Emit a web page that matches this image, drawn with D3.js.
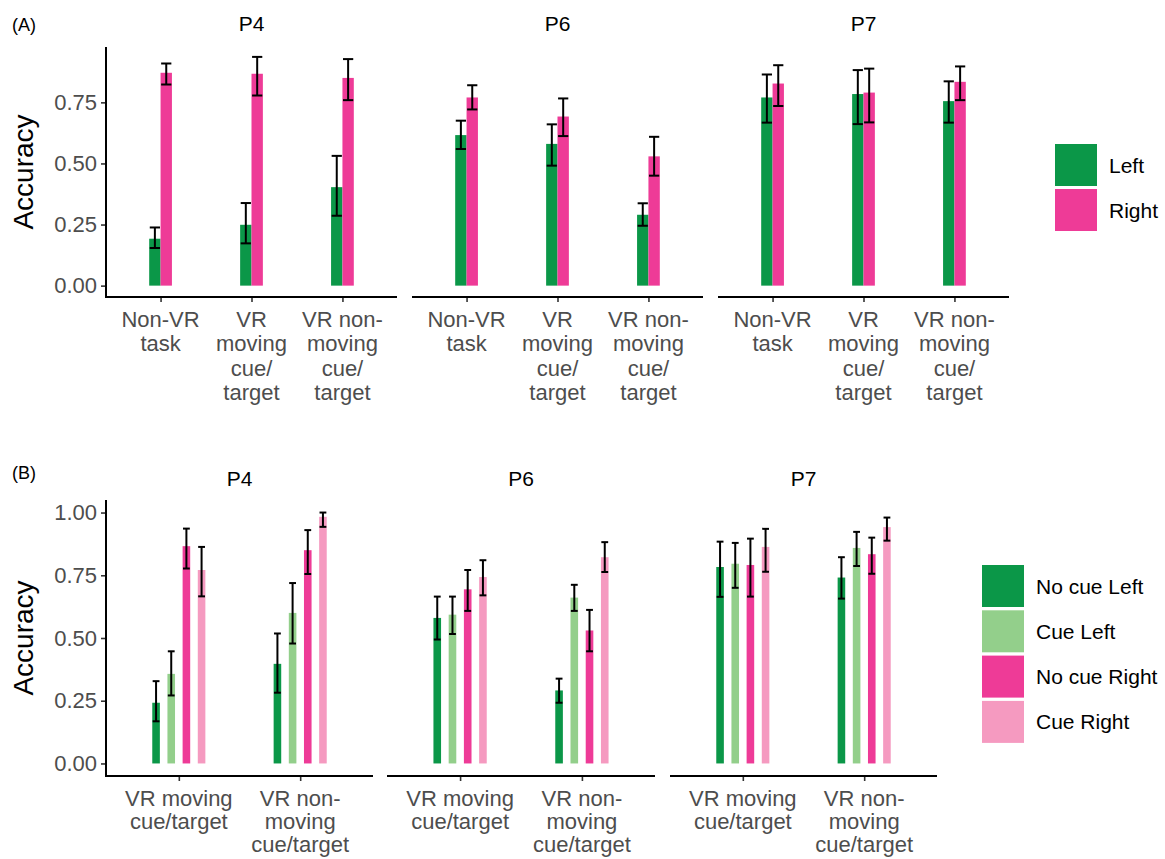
<!DOCTYPE html>
<html>
<head>
<meta charset="utf-8">
<script src="https://cdn.jsdelivr.net/npm/d3@7"></script>
<style>
  html, body { margin: 0; padding: 0; background: #fff; }
  svg { display: block; font-family: "Liberation Sans", Arial, sans-serif; }
</style>
</head>
<body>
<svg id="chart" width="1165" height="859"></svg>
<script>
// ---------------- DATA ----------------
const participants = ["P4", "P6", "P7"];

// Panel A
const categoriesA = ["Non-VR\ntask", "VR\nmoving\ncue/\ntarget", "VR non-\nmoving\ncue/\ntarget"];
const seriesA = ["Left", "Right"];
// values per participant (rows) x category (cols)
const leftA    = [[0.192, 0.249, 0.403], [0.616, 0.580, 0.290], [0.770, 0.784, 0.755]];
const leftA_lo = [[0.154, 0.173, 0.286], [0.559, 0.491, 0.245], [0.667, 0.661, 0.667]];
const leftA_hi = [[0.238, 0.338, 0.531], [0.675, 0.660, 0.337], [0.864, 0.882, 0.836]];
const rightA    = [[0.871, 0.867, 0.850], [0.770, 0.692, 0.529], [0.827, 0.790, 0.834]];
const rightA_lo = [[0.823, 0.778, 0.759], [0.721, 0.612, 0.450], [0.735, 0.668, 0.759]];
const rightA_hi = [[0.909, 0.936, 0.927], [0.820, 0.766, 0.609], [0.902, 0.888, 0.897]];
const ticksA = [0, 0.25, 0.5, 0.75];
const tickLabelsA = ["0.00", "0.25", "0.50", "0.75"];

// Panel B
const categoriesB = ["VR moving\ncue/target", "VR non-\nmoving\ncue/target"];
const seriesB = ["No cue Left", "Cue Left", "No cue Right", "Cue Right"];
const noCueLeftB    = [[0.242, 0.397], [0.580, 0.291], [0.783, 0.741]];
const noCueLeftB_lo = [[0.168, 0.282], [0.494, 0.242], [0.664, 0.657]];
const noCueLeftB_hi = [[0.328, 0.518], [0.665, 0.338], [0.884, 0.822]];
const cueLeftB    = [[0.357, 0.600], [0.593, 0.661], [0.796, 0.859]];
const cueLeftB_lo = [[0.271, 0.478], [0.516, 0.608], [0.700, 0.787]];
const cueLeftB_hi = [[0.447, 0.719], [0.665, 0.712], [0.879, 0.923]];
const noCueRightB    = [[0.866, 0.850], [0.694, 0.530], [0.791, 0.834]];
const noCueRightB_lo = [[0.777, 0.755], [0.608, 0.447], [0.665, 0.756]];
const noCueRightB_hi = [[0.936, 0.930], [0.771, 0.612], [0.896, 0.900]];
const cueRightB    = [[0.771, 0.983], [0.743, 0.822], [0.863, 0.942]];
const cueRightB_lo = [[0.666, 0.943], [0.670, 0.763], [0.764, 0.888]];
const cueRightB_hi = [[0.863, 1.000], [0.810, 0.882], [0.935, 0.980]];
const ticksB = [0, 0.25, 0.5, 0.75, 1.0];
const tickLabelsB = ["0.00", "0.25", "0.50", "0.75", "1.00"];

const colorsA = ["#0b9748", "#ee3b97"];
const colorsB = ["#0b9748", "#93cf8b", "#ee3b97", "#f59ac0"];

// ---------------- DRAW ----------------
const svg = d3.select("#chart");
const tickColor = "#4d4d4d";

function drawPanel(cfg) {
  const g = svg.append("g");
  const y = d3.scaleLinear().domain(cfg.yDomain).range([cfg.bottom, cfg.top]);

  // panel label (A)/(B)
  g.append("text").attr("x", 12).attr("y", cfg.labelY)
    .attr("font-size", 18).attr("fill", "#000").text(cfg.label);

  // y axis (only on first facet)
  const yAxis = d3.axisLeft(y).tickValues(cfg.ticks)
    .tickFormat((d, i) => cfg.tickLabels[i]).tickSize(5).tickPadding(4);
  const ya = g.append("g").attr("transform", `translate(${cfg.facetX[0][0]},0)`).call(yAxis);
  ya.select(".domain").remove();
  ya.selectAll(".tick line").attr("stroke", "#333").attr("stroke-width", 1.6);
  ya.selectAll(".tick text").attr("font-size", 22).attr("fill", tickColor)
    .attr("font-family", "Liberation Sans, Arial, sans-serif");
  g.append("line").attr("x1", cfg.facetX[0][0]).attr("x2", cfg.facetX[0][0])
    .attr("y1", cfg.top).attr("y2", cfg.bottom).attr("stroke", "#000").attr("stroke-width", 2);

  // y title
  g.append("text")
    .attr("transform", `translate(${cfg.yTitleX},${(cfg.top + cfg.bottom) / 2}) rotate(-90)`)
    .attr("text-anchor", "middle").attr("font-size", 28).attr("fill", "#000").text("Accuracy");

  const nS = cfg.series.length;
  participants.forEach((p, pi) => {
    const [x0, x1] = cfg.facetX[pi];
    const x = d3.scalePoint().domain(cfg.categories).range([x0, x1]).padding(0.6);
    const step = x.step();
    const slot = step * cfg.dodge / nS;
    const barW = step * cfg.barWidth / nS;

    // facet title
    g.append("text").attr("x", (x0 + x1) / 2).attr("y", cfg.titleY)
      .attr("text-anchor", "middle").attr("font-size", 21).attr("fill", "#000").text(p);

    // bars + error bars
    cfg.categories.forEach((c, ci) => {
      cfg.series.forEach((s, si) => {
        const cx = x(c) + (si - (nS - 1) / 2) * slot;
        const v = cfg.values[si][pi][ci];
        g.append("rect").attr("x", cx - barW / 2).attr("width", barW)
          .attr("y", y(v)).attr("height", y(0) - y(v)).attr("fill", cfg.colors[si]);
      });
      cfg.series.forEach((s, si) => {
        const cx = x(c) + (si - (nS - 1) / 2) * slot;
        const lo = cfg.lo[si][pi][ci];
        const hi = cfg.hi[si][pi][ci];
        const cw = barW * 0.9;
        const eb = g.append("g").attr("stroke", "#000").attr("stroke-width", 2).attr("fill", "none");
        eb.append("line").attr("x1", cx).attr("x2", cx).attr("y1", y(lo)).attr("y2", y(hi));
        eb.append("line").attr("x1", cx - cw / 2).attr("x2", cx + cw / 2).attr("y1", y(lo)).attr("y2", y(lo));
        eb.append("line").attr("x1", cx - cw / 2).attr("x2", cx + cw / 2).attr("y1", y(hi)).attr("y2", y(hi));
      });
    });

    // x axis
    const xAxis = d3.axisBottom(x).tickSize(5).tickFormat("");
    const xa = g.append("g").attr("transform", `translate(0,${cfg.bottom})`).call(xAxis);
    xa.select(".domain").remove();
    xa.selectAll(".tick line").attr("stroke", "#333").attr("stroke-width", 1.6);
    g.append("line").attr("x1", x0 - (pi === 0 ? 1 : 0)).attr("x2", x1)
      .attr("y1", cfg.bottom).attr("y2", cfg.bottom).attr("stroke", "#000").attr("stroke-width", 2);

    // multi-line category labels
    cfg.categories.forEach(c => {
      const t = g.append("text").attr("text-anchor", "middle").attr("font-size", 22)
        .attr("fill", tickColor);
      c.split("\n").forEach((line, li) => {
        t.append("tspan").attr("x", x(c)).attr("y", cfg.catY + li * cfg.catLH).text(line);
      });
    });
  });

  // legend
  cfg.series.forEach((s, si) => {
    const ky = cfg.legendY + si * cfg.legendStep;
    g.append("rect").attr("x", cfg.legendX).attr("y", ky)
      .attr("width", 42).attr("height", 42).attr("fill", cfg.colors[si]);
    g.append("text").attr("x", cfg.legendX + 54).attr("y", ky + 21)
      .attr("dominant-baseline", "central").attr("font-size", 21).attr("fill", "#000").text(s);
  });
}

drawPanel({
  label: "(A)", labelY: 31, titleY: 31,
  top: 47, bottom: 297,
  yDomain: [-0.0465, 0.9765],
  ticks: ticksA, tickLabels: tickLabelsA,
  yTitleX: 33,
  facetX: [[106, 397], [412, 703], [718, 1009]],
  categories: categoriesA, series: seriesA,
  values: [leftA, rightA], lo: [leftA_lo, rightA_lo], hi: [leftA_hi, rightA_hi],
  colors: colorsA, dodge: 0.25, barWidth: 0.25,
  catY: 327, catLH: 24.3,
  legendX: 1055, legendY: 144, legendStep: 45
});

drawPanel({
  label: "(B)", labelY: 479, titleY: 486,
  top: 500, bottom: 776,
  yDomain: [-0.05, 1.05],
  ticks: ticksB, tickLabels: tickLabelsB,
  yTitleX: 33,
  facetX: [[106, 373], [387, 655], [670, 937]],
  categories: categoriesB, series: seriesB,
  values: [noCueLeftB, cueLeftB, noCueRightB, cueRightB],
  lo: [noCueLeftB_lo, cueLeftB_lo, noCueRightB_lo, cueRightB_lo],
  hi: [noCueLeftB_hi, cueLeftB_hi, noCueRightB_hi, cueRightB_hi],
  colors: colorsB, dodge: 0.5, barWidth: 0.25,
  catY: 806, catLH: 23.2,
  legendX: 982, legendY: 565, legendStep: 45.3
});
</script>
</body>
</html>
